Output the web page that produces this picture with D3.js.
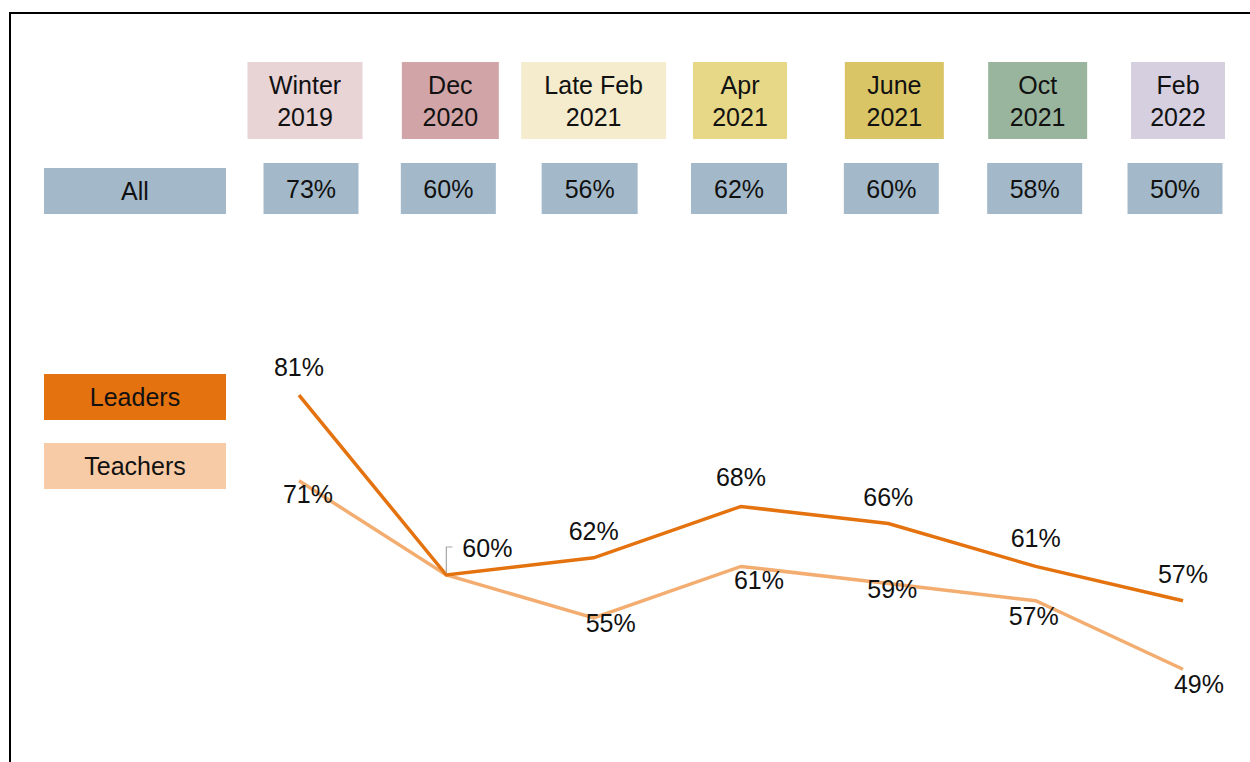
<!DOCTYPE html>
<html>
<head>
<meta charset="utf-8">
<script src="https://cdn.jsdelivr.net/npm/d3@7"></script>
<style>
  html, body { margin: 0; padding: 0; background: #fff; }
  svg { display: block; font-family: "Liberation Sans", Arial, sans-serif; }
</style>
</head>
<body>
<svg width="1250" height="762"></svg>
<script>
// data
const periods = [["Winter", "2019"], ["Dec", "2020"], ["Late Feb", "2021"], ["Apr", "2021"], ["June", "2021"], ["Oct", "2021"], ["Feb", "2022"]];
const allValues = [73, 60, 56, 62, 60, 58, 50];
const leaders = [81, 60, 62, 68, 66, 61, 57];
const teachers = [71, 60, 55, 61, 59, 57, 49];

// layout / style
const periodColors = ["#e8d3d5", "#d1a5a7", "#f4eccd", "#e6d886", "#d9c566", "#9ab59d", "#d6cfe0"];
const periodWidths = [115, 97, 145, 94, 99, 99, 94];
const periodDx = [6, 4, 0, -1, 6, 2, -5];
const allWidths = [95, 95, 96, 96, 95, 95, 95];
const allDx = [12, 2, -4, -2, 3, -1, -8];
const leaderLabelOff = [[0, -19], null, [0, -18], [0, -20], [0, -18], [0, -19], [0, -18]];
const teacherLabelOff = [[9, 22], null, [17, 14], [18, 23], [4, 14], [-2, 24], [16, 24]];

const svg = d3.select("svg");
const fs = 25;
const boxBlue = "#a3b9c9";
const leaderColor = "#e4720e";
const teacherLine = "#f3ad70";
const teacherBox = "#f7cba6";

const xScale = d3.scalePoint()
  .domain(d3.range(periods.length))
  .range([299, 1183]);

const yScale = d3.scaleLinear()
  .domain([40, 90])
  .range([746.4, 317.9]);

// frame
svg.append("path")
  .attr("d", "M10,770 V13 H1260")
  .attr("fill", "none")
  .attr("stroke", "#000")
  .attr("stroke-width", 2);

// period header boxes
const head = svg.append("g").selectAll("g")
  .data(periods)
  .enter()
  .append("g")
  .attr("transform", (d, i) => `translate(${xScale(i) + periodDx[i]},0)`);

head.append("rect")
  .attr("x", (d, i) => -periodWidths[i] / 2)
  .attr("y", 62)
  .attr("width", (d, i) => periodWidths[i])
  .attr("height", 77)
  .attr("fill", (d, i) => periodColors[i]);

head.append("text")
  .attr("text-anchor", "middle")
  .attr("font-size", fs)
  .attr("fill", "#111")
  .selectAll("tspan")
  .data(d => d)
  .enter()
  .append("tspan")
  .attr("x", 0)
  .attr("y", (d, i) => 94 + i * 32)
  .text(d => d);

// "All" row
svg.append("rect")
  .attr("x", 44).attr("y", 168)
  .attr("width", 182).attr("height", 46)
  .attr("fill", boxBlue);
svg.append("text")
  .attr("x", 135).attr("y", 200)
  .attr("text-anchor", "middle")
  .attr("font-size", fs)
  .attr("fill", "#111")
  .text("All");

const allG = svg.append("g").selectAll("g")
  .data(allValues)
  .enter()
  .append("g")
  .attr("transform", (d, i) => `translate(${xScale(i) + allDx[i]},0)`);

allG.append("rect")
  .attr("x", (d, i) => -allWidths[i] / 2)
  .attr("y", 163)
  .attr("width", (d, i) => allWidths[i])
  .attr("height", 51)
  .attr("fill", boxBlue);

allG.append("text")
  .attr("y", 198)
  .attr("text-anchor", "middle")
  .attr("font-size", fs)
  .attr("fill", "#111")
  .text(d => d + "%");

// legend
const legend = [["Leaders", leaderColor, 374], ["Teachers", teacherBox, 443]];
legend.forEach(([name, color, y]) => {
  svg.append("rect")
    .attr("x", 44).attr("y", y)
    .attr("width", 182).attr("height", 46)
    .attr("fill", color);
  svg.append("text")
    .attr("x", 135).attr("y", y + 32)
    .attr("text-anchor", "middle")
    .attr("font-size", fs)
    .attr("fill", "#111")
    .text(name);
});

// lines
const line = d3.line()
  .x((d, i) => xScale(i))
  .y(d => yScale(d));

svg.append("path")
  .datum(teachers)
  .attr("d", line)
  .attr("fill", "none")
  .attr("stroke", teacherLine)
  .attr("stroke-width", 3.5);

svg.append("path")
  .datum(leaders)
  .attr("d", line)
  .attr("fill", "none")
  .attr("stroke", leaderColor)
  .attr("stroke-width", 3.5);

// leader line for the shared 60% point
const px = xScale(1), py = yScale(leaders[1]);
svg.append("path")
  .attr("d", `M${px},${py - 2} V${py - 28} H${px + 6}`)
  .attr("fill", "none")
  .attr("stroke", "#a6a6a6")
  .attr("stroke-width", 1.2);
svg.append("text")
  .attr("x", px + 16).attr("y", py - 18)
  .attr("font-size", fs)
  .attr("fill", "#111")
  .text(leaders[1] + "%");

// data labels
function labels(values, offs) {
  svg.append("g").selectAll("text")
    .data(values.map((v, i) => ({ v, i })).filter(d => offs[d.i]))
    .enter()
    .append("text")
    .attr("x", d => xScale(d.i) + offs[d.i][0])
    .attr("y", d => yScale(d.v) + offs[d.i][1])
    .attr("text-anchor", "middle")
    .attr("font-size", fs)
    .attr("fill", "#111")
    .text(d => d.v + "%");
}
labels(leaders, leaderLabelOff);
labels(teachers, teacherLabelOff);
</script>
</body>
</html>
